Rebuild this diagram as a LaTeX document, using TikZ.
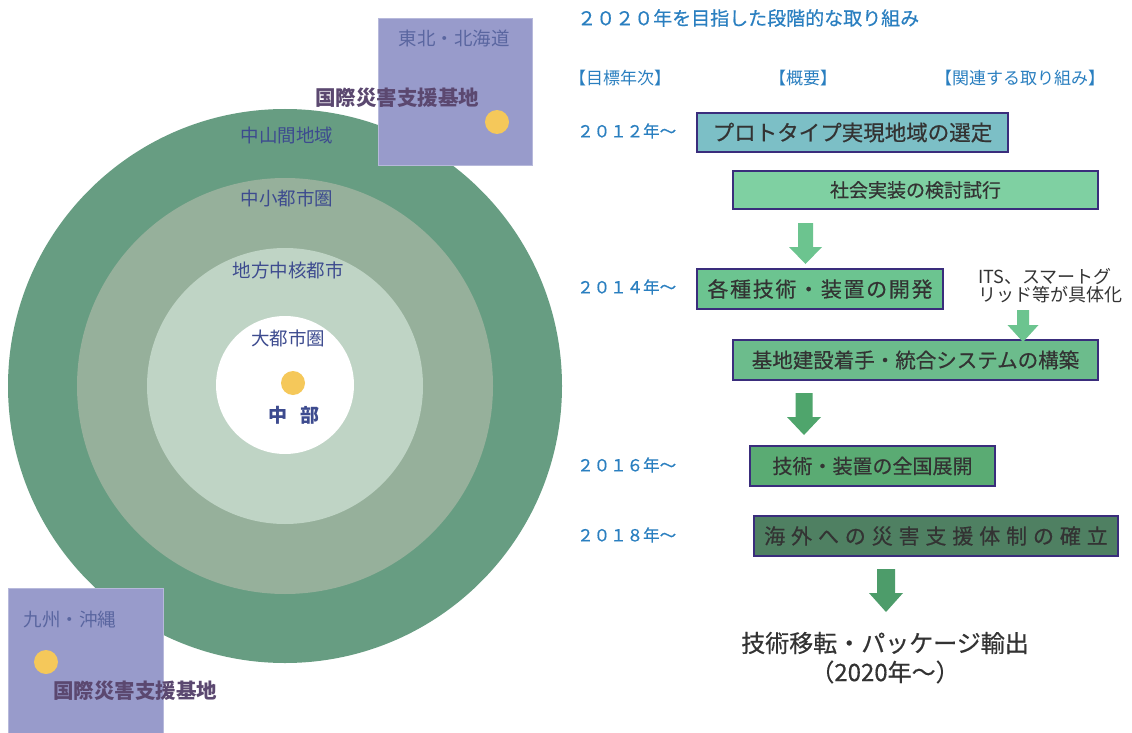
\documentclass[tikz,border=0pt]{standalone}
\usepackage{fontspec}
\setmainfont{Noto Sans CJK JP}
\definecolor{ringA}{HTML}{679D82}
\definecolor{ringB}{HTML}{96B09B}
\definecolor{ringC}{HTML}{BFD4C5}
\definecolor{sq}{HTML}{989BCB}
\definecolor{dot}{HTML}{F5C85A}
\definecolor{ringtxt}{HTML}{3D4B8F}
\definecolor{basetxt}{HTML}{5B4870}
\definecolor{titleblue}{HTML}{2A7FC0}
\definecolor{boxline}{HTML}{3A2D7C}
\definecolor{fillA}{HTML}{7CBFC6}
\definecolor{fillB}{HTML}{7FD0A2}
\definecolor{fillC}{HTML}{6CC490}
\definecolor{fillD}{HTML}{6CBC8C}
\definecolor{fillE}{HTML}{5AAB73}
\definecolor{fillF}{HTML}{4F8062}
\definecolor{arrA}{HTML}{6CC48F}
\definecolor{arrB}{HTML}{4FA56C}
\definecolor{arrC}{HTML}{4D9C6A}
\definecolor{darktxt}{HTML}{333333}
\newcommand{\fsz}[1]{\fontsize{#1pt}{#1pt}\selectfont}
\newcommand{\thk}{\addfontfeature{FakeBold=0.5}}
\newcommand{\blockarrow}[8]{% color, cx, shaft half, top, head top, head half, tip, name
  \fill[#1] (#2-#3,#4) -- (#2+#3,#4) -- (#2+#3,#5) -- (#2+#6,#5) -- (#2,#7) -- (#2-#6,#5) -- (#2-#3,#5) -- cycle;
  \coordinate (#8) at (#2,#7);}
\begin{document}
\begin{tikzpicture}[x=1pt,y=-1pt,
  stepbox/.style={draw=boxline, line width=2.6pt, inner sep=0pt, text=darktxt, font=\fsz{20}\thk},
  yearlbl/.style={anchor=west, text=titleblue, inner sep=0pt, font=\fsz{16.5}\thk},
  hdr/.style={text=titleblue, inner sep=0pt, font=\fsz{17}},
  ringlbl/.style={text=ringtxt, inner sep=0pt, font=\fsz{18.5}},
  baselbl/.style={text=basetxt, inner sep=0pt, font=\bfseries\fsz{20.5}},
  regionsq/.style={fill=sq, draw=sq!70!white, line width=0.8pt}]
\useasboundingbox (0,0) rectangle (1132,733);
\fill[white] (0,0) rectangle (1132,733);
% rings
\fill[ringA] (285,386) circle[radius=277];
\fill[ringB] (285,386) circle[radius=208];
\fill[ringC] (285,386) circle[radius=138];
\fill[white] (285,385) circle[radius=69];
\fill[dot] (293,383) circle[radius=12];
\node[ringlbl] (r1) at (287,135) {中山間地域};
\node[ringlbl] (r2) at (287,198) {中小都市圏};
\node[ringlbl] (r3) at (288,270) {地方中核都市};
\node[ringlbl] (r4) at (288,338) {大都市圏};
\node[ringlbl, font=\bfseries\fsz{19}] (chubu) at (294,415) {中\hspace{14pt}部};
% region squares
\fill[regionsq] (378,18) rectangle (532,165);
\fill[dot] (497,122) circle[radius=12];
\node[ringlbl, text=ringtxt!85!white] (tohoku) at (454,38) {東北・北海道};
\node[baselbl] (base1) at (397,98) {国際災害支援基地};
\fill[regionsq] (8,588) rectangle (163,740);
\fill[dot] (46,662) circle[radius=12];
\node[ringlbl, text=ringtxt!85!white] (kyushu) at (70,619) {九州・沖縄};
\node[baselbl] (base2) at (135,691) {国際災害支援基地};
% right side titles
\node[anchor=west, text=titleblue, inner sep=0pt, font=\fsz{19}\thk] (title) at (577,18) {２０２０年を目指した段階的な取り組み};
\node[hdr, anchor=west] (h1) at (569,78) {【目標年次】};
\node[hdr] (h2) at (803,78) {【概要】};
\node[hdr] (h3) at (1020,78) {【関連する取り組み】};
\node[yearlbl] (y1) at (577,131) {２０１２年～};
\node[yearlbl] (y2) at (577,287) {２０１４年～};
\node[yearlbl] (y3) at (577,465) {２０１６年～};
\node[yearlbl] (y4) at (577,535) {２０１８年～};
% boxes
\node[stepbox, fill=fillA, minimum width=311, minimum height=39, font=\fsz{21.5}\thk] (b1) at (852.5,132.5) {プロトタイプ実現地域の選定};
\node[stepbox, fill=fillB, minimum width=365, minimum height=38, font=\fsz{19}\thk] (b2) at (915.5,190) {社会実装の検討試行};
\node[stepbox, fill=fillC, minimum width=246, minimum height=40, font=\fsz{21}\thk\addfontfeature{LetterSpace=8}] (b3) at (820,289) {各種技術・装置の開発};
\node[stepbox, fill=fillD, minimum width=365, minimum height=40, font=\fsz{20.5}\thk] (b4) at (915.5,360) {基地建設着手・統合システムの構築};
\node[stepbox, fill=fillE, minimum width=245, minimum height=40] (b5) at (872.5,466) {技術・装置の全国展開};
\node[stepbox, fill=fillF, minimum width=364, minimum height=40, font=\fsz{21}\thk\addfontfeature{LetterSpace=28}] (b6) at (936,536) {海外への災害支援体制の確立};
\node[text=darktxt, inner sep=0pt, align=left, font=\fsz{18}] (its) at (1050,286) {ITS、スマートグ\\リッド等が具体化};
\node[text=darktxt, inner sep=0pt, font=\fsz{24}\thk] (fin1) at (885,643) {技術移転・パッケージ輸出};
\node[text=darktxt, inner sep=0pt, font=\fsz{24}\thk] (fin2) at (885,672) {（2020年～）};
% block arrows
\blockarrow{arrA}{805.5}{7.5}{223}{247}{16.5}{264}{a1}
\blockarrow{arrA}{1023}{6}{310}{325}{15.5}{342}{a2}
\blockarrow{arrB}{804}{8.5}{393}{417}{17}{435}{a3}
\blockarrow{arrC}{886}{9}{569}{593}{17}{612}{a4}
\end{tikzpicture}
\end{document}
